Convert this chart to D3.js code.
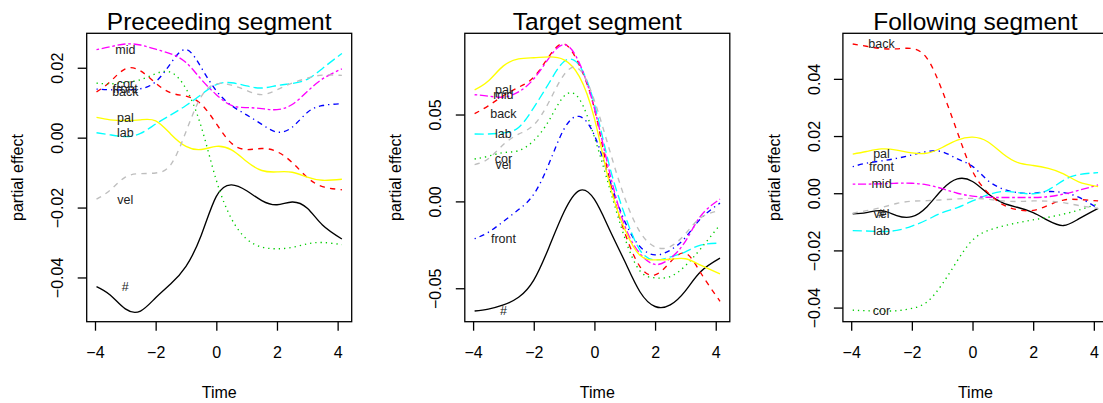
<!DOCTYPE html>
<html>
<head>
<meta charset="utf-8">
<script src="https://cdn.jsdelivr.net/npm/d3@7"></script>
<style>
  body { margin: 0; background: #fff; }
  svg { display: block; font-family: "Liberation Sans", Arial, Helvetica, sans-serif; }
</style>
</head>
<body>
<svg id="chart" width="1103" height="403"></svg>
<script>
// time points (s) shared by all curves
const time = [-3.95, -3.5, -3, -2.5, -2, -1.5, -1, -0.5, 0, 0.5, 1, 1.5, 2, 2.5, 3, 3.5, 4.14];
const phones = ["#", "back", "cor", "front", "lab", "mid", "pal", "vel"];
const titles = ["Preceeding segment", "Target segment", "Following segment"];

// one row per phone class, same order as `phones`
const preceding = [
  [-0.0426, -0.0450, -0.0490, -0.0496, -0.0458, -0.0418, -0.0368, -0.0280, -0.0168, -0.0135, -0.0152, -0.0180, -0.0192, -0.0184, -0.0202, -0.0250, -0.0290],
  [0.0131, 0.0160, 0.0197, 0.0191, 0.0156, 0.0128, 0.0119, 0.0096, 0.0040, -0.0016, -0.0034, -0.0031, -0.0040, -0.0071, -0.0114, -0.0140, -0.0149],
  [0.0156, 0.0154, 0.0158, 0.0166, 0.0183, 0.0187, 0.0140, 0.0032, -0.0122, -0.0232, -0.0290, -0.0313, -0.0318, -0.0314, -0.0304, -0.0300, -0.0306],
  [0.0139, 0.0137, 0.0137, 0.0140, 0.0160, 0.0213, 0.0252, 0.0201, 0.0134, 0.0092, 0.0065, 0.0038, 0.0016, 0.0030, 0.0072, 0.0092, 0.0097],
  [0.0014, 0.0008, 0.0003, 0.0012, 0.0039, 0.0065, 0.0092, 0.0123, 0.0152, 0.0157, 0.0148, 0.0142, 0.0149, 0.0155, 0.0167, 0.0198, 0.0241],
  [0.0252, 0.0260, 0.0268, 0.0265, 0.0253, 0.0240, 0.0215, 0.0167, 0.0123, 0.0092, 0.0086, 0.0083, 0.0080, 0.0095, 0.0132, 0.0168, 0.0197],
  [0.0058, 0.0051, 0.0049, 0.0051, 0.0048, 0.0010, -0.0025, -0.0034, -0.0025, -0.0035, -0.0068, -0.0094, -0.0098, -0.0099, -0.0113, -0.0122, -0.0119],
  [-0.0176, -0.0150, -0.0113, -0.0103, -0.0101, -0.0077, 0.0017, 0.0117, 0.0154, 0.0150, 0.0135, 0.0123, 0.0137, 0.0156, 0.0170, 0.0179, 0.0178]
];
const target = [
  [-0.0631, -0.0620, -0.0596, -0.0552, -0.0453, -0.0265, -0.0060, 0.0062, 0.0011, -0.0163, -0.0345, -0.0520, -0.0605, -0.0596, -0.0515, -0.0405, -0.0327],
  [0.0505, 0.0550, 0.0608, 0.0657, 0.0715, 0.0834, 0.0906, 0.0785, 0.0533, 0.0125, -0.0180, -0.0375, -0.0423, -0.0350, -0.0298, -0.0410, -0.0575],
  [0.0244, 0.0260, 0.0281, 0.0292, 0.0350, 0.0465, 0.0606, 0.0590, 0.0370, 0.0077, -0.0210, -0.0400, -0.0440, -0.0433, -0.0370, -0.0273, -0.0135],
  [-0.0215, -0.0178, -0.0115, -0.0047, 0.0041, 0.0216, 0.0417, 0.0489, 0.0380, 0.0125, -0.0115, -0.0260, -0.0308, -0.0281, -0.0208, -0.0100, -0.0010],
  [0.0388, 0.0388, 0.0394, 0.0425, 0.0540, 0.0680, 0.0805, 0.0783, 0.0560, 0.0202, -0.0077, -0.0280, -0.0337, -0.0320, -0.0290, -0.0252, -0.0240],
  [0.0614, 0.0606, 0.0600, 0.0630, 0.0705, 0.0825, 0.0902, 0.0798, 0.0535, 0.0167, -0.0140, -0.0300, -0.0363, -0.0328, -0.0230, -0.0085, 0.0013],
  [0.0642, 0.0693, 0.0780, 0.0820, 0.0827, 0.0832, 0.0815, 0.0720, 0.0478, 0.0101, -0.0160, -0.0310, -0.0337, -0.0333, -0.0330, -0.0367, -0.0417],
  [0.0212, 0.0245, 0.0327, 0.0387, 0.0440, 0.0572, 0.0730, 0.0760, 0.0580, 0.0295, 0.0020, -0.0175, -0.0262, -0.0260, -0.0187, -0.0095, -0.0052]
];
const following = [
  [-0.0072, -0.0068, -0.0061, -0.0078, -0.0082, -0.0047, 0.0013, 0.0050, 0.0041, -0.0001, -0.0034, -0.0050, -0.0068, -0.0096, -0.0113, -0.0090, -0.0053],
  [0.0522, 0.0514, 0.0506, 0.0505, 0.0506, 0.0472, 0.0359, 0.0214, 0.0077, 0.0003, -0.0040, -0.0058, -0.0060, -0.0042, -0.0024, -0.0022, -0.0027],
  [-0.0409, -0.0411, -0.0412, -0.0411, -0.0403, -0.0380, -0.0318, -0.0236, -0.0164, -0.0131, -0.0115, -0.0103, -0.0093, -0.0084, -0.0073, -0.0059, -0.0037],
  [0.0093, 0.0105, 0.0113, 0.0122, 0.0134, 0.0146, 0.0145, 0.0120, 0.0094, 0.0045, 0.0015, 0.0002, 0.0000, 0.0006, 0.0002, -0.0014, -0.0053],
  [-0.0131, -0.0132, -0.0134, -0.0130, -0.0115, -0.0093, -0.0068, -0.0050, -0.0027, -0.0006, 0.0006, 0.0002, -0.0002, 0.0012, 0.0045, 0.0065, 0.0072],
  [0.0032, 0.0032, 0.0033, 0.0035, 0.0035, 0.0029, 0.0016, 0.0000, -0.0010, -0.0014, -0.0015, -0.0015, -0.0015, -0.0012, -0.0003, 0.0010, 0.0029],
  [0.0137, 0.0146, 0.0155, 0.0151, 0.0141, 0.0140, 0.0160, 0.0186, 0.0196, 0.0180, 0.0138, 0.0107, 0.0097, 0.0087, 0.0068, 0.0040, 0.0023],
  [-0.0070, -0.0061, -0.0050, -0.0036, -0.0028, -0.0026, -0.0023, -0.0020, -0.0018, -0.0021, -0.0027, -0.0029, -0.0027, -0.0028, -0.0033, -0.0043, -0.0053]
];
const xTicks = [-4, -2, 0, 2, 4];
const yTicks = [[-0.04, -0.02, 0, 0.02], [-0.05, 0, 0.05], [-0.04, -0.02, 0, 0.02, 0.04]];
const labelTime = -3; // where the phone names sit

// R default palette / line types
const colors = ["#000000", "#FF0000", "#00CD00", "#0000FF", "#00FFFF", "#FF00FF", "#FFFF00", "#BEBEBE"];
const dashes = [null, "5.3,5.3", "1.3,4", "1.3,4,5.3,4", "9.3,4", "2.7,2.7,8,2.7", null, "5.3,5.3"];

const svg = d3.select("#chart");
const panelW = 265, panelH = 288.4, plotTop = 33.3, step = 378.1, firstLeft = 86.7;

// R-style 4% padding
function padded(ext) {
  const p = (ext[1] - ext[0]) * 0.04;
  return [ext[0] - p, ext[1] + p];
}

[preceding, target, following].forEach((rows, k) => {
  const left = firstLeft + k * step;
  const x = d3.scaleLinear().domain(padded(d3.extent(time))).range([left, left + panelW]);
  const y = d3.scaleLinear().domain(padded(d3.extent(rows.flat()))).range([plotTop + panelH, plotTop]);

  const g = svg.append("g");

  // curves
  const line = d3.line()
    .x((d, i) => x(time[i]))
    .y(d => y(d))
    .curve(d3.curveNatural);

  g.selectAll("path.curve")
    .data(rows)
    .enter()
    .append("path")
    .attr("class", "curve")
    .attr("d", line)
    .attr("fill", "none")
    .attr("stroke", (d, i) => colors[i])
    .attr("stroke-width", 1.35)
    .attr("stroke-dasharray", (d, i) => dashes[i]);

  // phone labels at the start of each curve
  g.selectAll("text.phone")
    .data(rows)
    .enter()
    .append("text")
    .attr("class", "phone")
    .attr("x", x(labelTime))
    .attr("y", d => y(d[0]))
    .attr("dy", "0.35em")
    .attr("text-anchor", "middle")
    .style("font-size", "12.5px")
    .attr("fill", "#222")
    .text((d, i) => phones[i]);

  // box
  g.append("rect")
    .attr("x", left).attr("y", plotTop)
    .attr("width", panelW).attr("height", panelH)
    .attr("fill", "none").attr("stroke", "#000").attr("stroke-width", 1.3);

  // x axis
  const xa = g.append("g")
    .attr("transform", `translate(0,${plotTop + panelH})`)
    .call(d3.axisBottom(x).tickValues(xTicks).tickSize(9).tickFormat(d3.format("d")));
  xa.select(".domain").remove();
  xa.selectAll("line").attr("stroke-width", 1.3);
  xa.selectAll("text")
    .attr("y", 36.6).attr("dy", null)
    .style("font-size", "16px").attr("fill", "#000");

  // y axis, labels rotated as R does by default
  const ya = g.append("g")
    .attr("transform", `translate(${left},0)`)
    .call(d3.axisLeft(y).tickValues(yTicks[k]).tickSize(9).tickFormat(d3.format(".2f")));
  ya.select(".domain").remove();
  ya.selectAll("line").attr("stroke-width", 1.3);
  ya.selectAll("text")
    .attr("transform", "rotate(-90)")
    .attr("x", 0).attr("y", -23.4).attr("dy", null)
    .attr("text-anchor", "middle")
    .style("font-size", "16px").attr("fill", "#000");

  // titles
  g.append("text")
    .attr("x", left + panelW / 2).attr("y", 30)
    .attr("text-anchor", "middle")
    .style("font-size", "24.5px")
    .text(titles[k]);

  g.append("text")
    .attr("x", left + panelW / 2).attr("y", 398.3)
    .attr("text-anchor", "middle")
    .style("font-size", "16px")
    .text("Time");

  g.append("text")
    .attr("transform", `translate(${left - 63.4},${plotTop + panelH / 2}) rotate(-90)`)
    .attr("text-anchor", "middle")
    .style("font-size", "16px")
    .text("partial effect");
});
</script>
</body>
</html>
